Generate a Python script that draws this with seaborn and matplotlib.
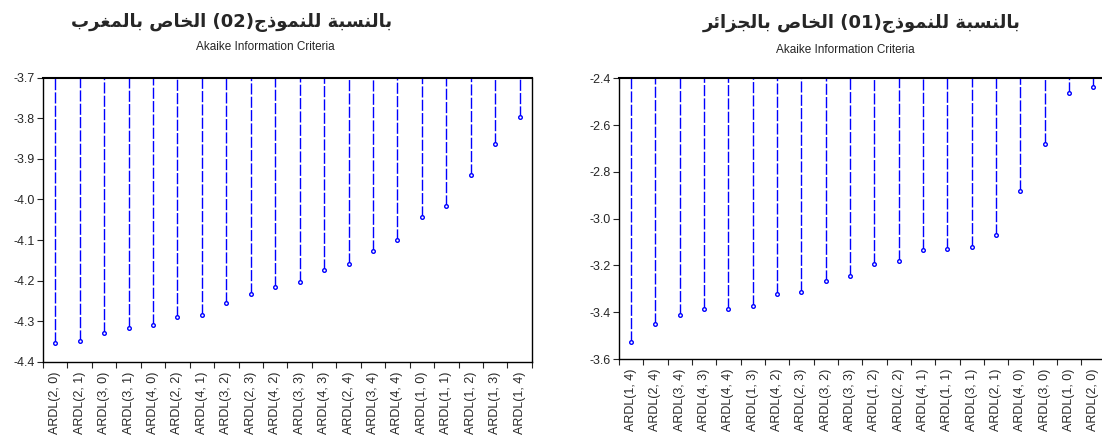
import numpy as np
import pandas as pd
import matplotlib
matplotlib.use("Agg")
import matplotlib.pyplot as plt
import seaborn as sns

# --- data ---
labels_ma = ["ARDL(2, 0)", "ARDL(2, 1)", "ARDL(3, 0)", "ARDL(3, 1)", "ARDL(4, 0)",
             "ARDL(2, 2)", "ARDL(4, 1)", "ARDL(3, 2)", "ARDL(2, 3)", "ARDL(4, 2)",
             "ARDL(3, 3)", "ARDL(4, 3)", "ARDL(2, 4)", "ARDL(3, 4)", "ARDL(4, 4)",
             "ARDL(1, 0)", "ARDL(1, 1)", "ARDL(1, 2)", "ARDL(1, 3)", "ARDL(1, 4)"]
aic_ma = [-4.353, -4.350, -4.330, -4.317, -4.310, -4.290, -4.286, -4.255, -4.232, -4.217,
          -4.204, -4.175, -4.158, -4.126, -4.101, -4.044, -4.016, -3.939, -3.864, -3.796]

labels_dz = ["ARDL(1, 4)", "ARDL(2, 4)", "ARDL(3, 4)", "ARDL(4, 3)", "ARDL(4, 4)",
             "ARDL(1, 3)", "ARDL(4, 2)", "ARDL(2, 3)", "ARDL(3, 2)", "ARDL(3, 3)",
             "ARDL(1, 2)", "ARDL(2, 2)", "ARDL(4, 1)", "ARDL(1, 1)", "ARDL(3, 1)",
             "ARDL(2, 1)", "ARDL(4, 0)", "ARDL(3, 0)", "ARDL(1, 0)", "ARDL(2, 0)"]
aic_dz = [-3.527, -3.452, -3.412, -3.388, -3.385, -3.372, -3.323, -3.315, -3.265, -3.244,
          -3.195, -3.182, -3.134, -3.130, -3.123, -3.071, -2.882, -2.680, -2.463, -2.437]

title_ma = "بالنسبة للنموذج(02) الخاص بالمغرب"
title_dz = "بالنسبة للنموذج(01) الخاص بالجزائر"
subtitle = "Akaike Information Criteria"

# --- minimal Arabic shaping (matplotlib has no shaping/bidi) ---
# isolated, final, initial, medial
FORMS = {
    "ا": ("\uFE8D", "\uFE8E", None, None),
    "ب": ("\uFE8F", "\uFE90", "\uFE91", "\uFE92"),
    "ة": ("\uFE93", "\uFE94", None, None),
    "ج": ("\uFE9D", "\uFE9E", "\uFE9F", "\uFEA0"),
    "خ": ("\uFEA5", "\uFEA6", "\uFEA7", "\uFEA8"),
    "د": ("\uFEA9", "\uFEAA", None, None),
    "ذ": ("\uFEAB", "\uFEAC", None, None),
    "ر": ("\uFEAD", "\uFEAE", None, None),
    "ز": ("\uFEAF", "\uFEB0", None, None),
    "س": ("\uFEB1", "\uFEB2", "\uFEB3", "\uFEB4"),
    "ص": ("\uFEB9", "\uFEBA", "\uFEBB", "\uFEBC"),
    "غ": ("\uFECD", "\uFECE", "\uFECF", "\uFED0"),
    "ل": ("\uFEDD", "\uFEDE", "\uFEDF", "\uFEE0"),
    "م": ("\uFEE1", "\uFEE2", "\uFEE3", "\uFEE4"),
    "ن": ("\uFEE5", "\uFEE6", "\uFEE7", "\uFEE8"),
    "و": ("\uFEED", "\uFEEE", None, None),
    "ئ": ("\uFE89", "\uFE8A", "\uFE8B", "\uFE8C"),
}


def arabic_visual(text):
    out = []
    for i, ch in enumerate(text):
        if ch not in FORMS:
            out.append(ch)
            continue
        prev = text[i - 1] if i > 0 else ""
        nxt = text[i + 1] if i + 1 < len(text) else ""
        join_prev = prev in FORMS and FORMS[prev][2] is not None
        join_next = nxt in FORMS and FORMS[ch][2] is not None
        iso, fin, ini, med = FORMS[ch]
        if join_prev and join_next:
            out.append(med)
        elif join_prev:
            out.append(fin)
        elif join_next:
            out.append(ini)
        else:
            out.append(iso)
    s = "".join(out)[::-1]
    # keep digit runs left-to-right, mirror brackets
    res, buf = [], ""
    for ch in s + " ":
        if ch.isdigit():
            buf += ch
            continue
        if buf:
            res.append(buf[::-1])
            buf = ""
        res.append({"(": ")", ")": "("}.get(ch, ch))
    return "".join(res)[:-1]


sns.set_style("ticks")
plt.rcParams["font.family"] = ["Liberation Sans", "DejaVu Sans"]
plt.rcParams["axes.linewidth"] = 1.0

fig = plt.figure(figsize=(11.02, 4.43), dpi=100)
ax_ma = fig.add_axes([0.0390, 0.1835, 0.4437, 0.641])
ax_dz = fig.add_axes([0.5617, 0.1896, 0.4416, 0.6336])


def stem_panel(ax, labels, values, ylim, yticks):
    df = pd.DataFrame({"model": labels, "aic": values})
    sns.pointplot(data=df, x="model", y="aic", ax=ax, linestyle="none",
                  errorbar=None, color="#0000ff", marker="o", markersize=2.6,
                  markerfacecolor="white", markeredgecolor="#0000ff",
                  markeredgewidth=1.0, zorder=3)
    ax.vlines(np.arange(len(values)), values, ylim[1], colors="#0000ff",
              linestyles=(0, (8, 1.6)), linewidth=1.0, zorder=2)
    ax.set_ylim(*ylim)
    ax.set_xlim(-0.5, len(values) - 0.5)
    ax.set_yticks(yticks)
    ax.set_yticklabels([f"{t:.1f}" for t in yticks])
    ax.set_xticks(np.arange(len(values)))
    ax.set_xticklabels(labels, rotation=90)
    ax.set_xticks(np.arange(len(values) + 1) - 0.5, minor=True)
    ax.tick_params(axis="x", which="major", length=0, pad=7, labelsize=9)
    ax.tick_params(axis="x", which="minor", length=4, width=0.8, direction="out")
    ax.tick_params(axis="y", length=4, width=0.8, direction="out", labelsize=9, pad=2)
    ax.set_xlabel("")
    ax.set_ylabel("")
    for s in ax.spines.values():
        s.set_visible(True)
        s.set_color("black")
    ax.spines["top"].set_linewidth(1.5)


stem_panel(ax_ma, labels_ma, aic_ma, (-4.4, -3.7), np.round(np.arange(-4.4, -3.65, 0.1), 1))
stem_panel(ax_dz, labels_dz, aic_dz, (-3.6, -2.4), np.round(np.arange(-3.6, -2.35, 0.2), 1))

fig.text(0.210, 0.950, arabic_visual(title_ma), ha="center", va="center",
         fontsize=13, fontweight="bold", family=["DejaVu Sans"])
fig.text(0.782, 0.947, arabic_visual(title_dz), ha="center", va="center",
         fontsize=13, fontweight="bold", family=["DejaVu Sans"])
fig.text(0.2405, 0.893, subtitle, ha="center", va="center", fontsize=8.5)
fig.text(0.7675, 0.887, subtitle, ha="center", va="center", fontsize=8.5)

fig.savefig("out.png", dpi=100)
